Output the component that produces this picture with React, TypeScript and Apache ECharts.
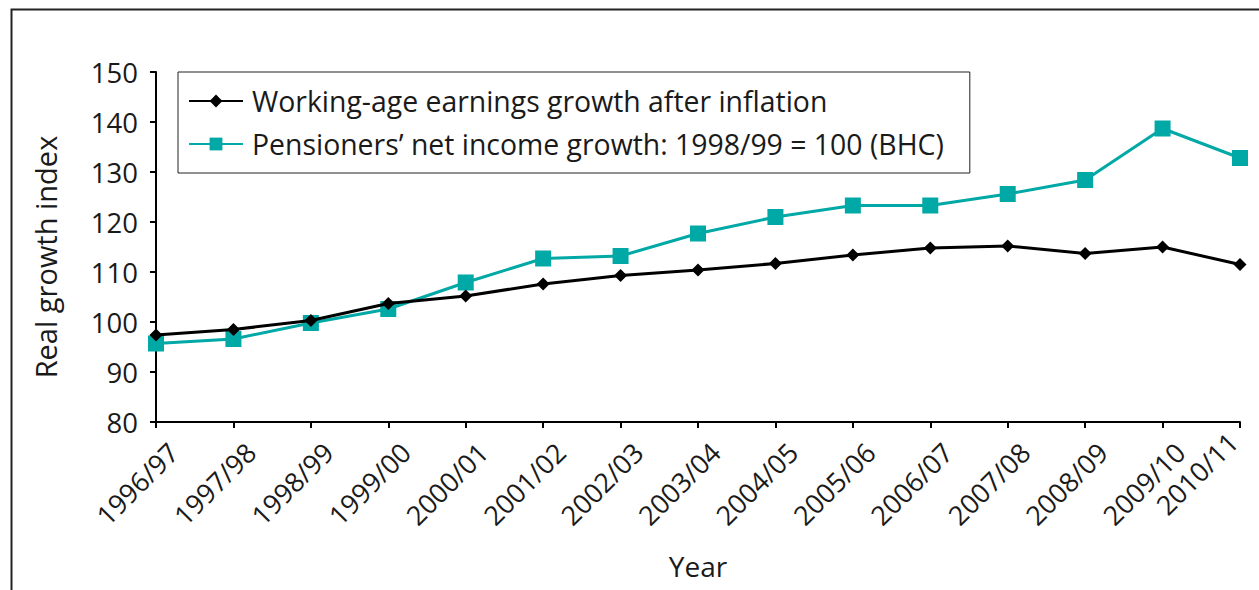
import React, { useEffect, useRef } from "react";
import * as echarts from "echarts";

const categories = [
  "1996/97", "1997/98", "1998/99", "1999/00", "2000/01", "2001/02", "2002/03", "2003/04",
  "2004/05", "2005/06", "2006/07", "2007/08", "2008/09", "2009/10", "2010/11",
];
const workingAge = [97.4, 98.5, 100.3, 103.7, 105.2, 107.6, 109.3, 110.4, 111.7, 113.4, 114.8, 115.2, 113.7, 115.0, 111.5];
const pensioners = [95.7, 96.6, 99.8, 102.6, 107.9, 112.7, 113.2, 117.7, 121.0, 123.3, 123.3, 125.6, 128.4, 138.7, 132.8];
const seriesNames = [
  "Working-age earnings growth after inflation",
  "Pensioners\u2019 net income growth: 1998/99 = 100 (BHC)",
];

const FONT = "Open Sans";
const TXT = "#1a1a1a";

export default function App() {
  const ref = useRef<HTMLDivElement>(null);
  useEffect(() => {
    if (!ref.current) return;
    const chart = echarts.init(ref.current, undefined, { renderer: "svg" });
    const lastIdx = categories.length - 1;
    const xData = categories.map((c, i) =>
      i === lastIdx ? { value: c, textStyle: { padding: [3, 10, 0, 0] } } : c
    );
    chart.setOption({
      animation: false,
      backgroundColor: "#ffffff",
      textStyle: { fontFamily: FONT, color: TXT },
      grid: {
        left: 156,
        right: 19,
        top: 72,
        bottom: 168,
        containLabel: false,
        outerBoundsMode: "none",
      },
      legend: {
        orient: "vertical",
        left: 178,
        top: 72,
        padding: [15, 26, 15, 10],
        itemGap: 15,
        itemWidth: 54,
        itemHeight: 16,
        borderColor: "#222",
        borderWidth: 1,
        textStyle: { fontFamily: FONT, fontSize: 28.4, color: TXT, padding: [0, 0, 0, 4] },
        data: seriesNames,
      },
      xAxis: {
        type: "category",
        data: xData,
        boundaryGap: false,
        name: "Year",
        nameLocation: "middle",
        nameGap: 130,
        nameTextStyle: { fontFamily: FONT, fontSize: 28, color: TXT },
        axisLine: { lineStyle: { color: "#000", width: 2 } },
        axisTick: { alignWithLabel: true, length: 6, lineStyle: { color: "#000", width: 2 } },
        axisLabel: {
          rotate: 45,
          fontFamily: FONT,
          fontSize: 27,
          color: TXT,
          margin: 8,
          interval: 0,
          verticalAlign: "top",
          padding: [11, 0, 0, 0],
        },
        splitLine: { show: false },
      },
      yAxis: {
        type: "value",
        min: 80,
        max: 150,
        interval: 10,
        name: "Real growth index",
        nameLocation: "middle",
        nameGap: 96,
        nameRotate: 90,
        nameTextStyle: { fontFamily: FONT, fontSize: 29, color: TXT, padding: [0, 20, 0, 0] },
        axisLine: { show: true, lineStyle: { color: "#000", width: 2 } },
        axisTick: { show: true, length: 6, lineStyle: { color: "#000", width: 2 } },
        axisLabel: { fontFamily: FONT, fontSize: 27.5, color: TXT, margin: 18 },
        splitLine: { show: false },
      },
      series: [
        {
          name: seriesNames[0],
          type: "line",
          data: workingAge,
          symbol: "diamond",
          symbolSize: 13,
          itemStyle: { color: "#000" },
          lineStyle: { color: "#000", width: 3 },
          z: 3,
        },
        {
          name: seriesNames[1],
          type: "line",
          data: pensioners,
          symbol: "rect",
          symbolSize: 16,
          itemStyle: { color: "#00a8a6" },
          lineStyle: { color: "#00a8a6", width: 3 },
          z: 2,
        },
      ],
      graphic: [
        {
          type: "rect",
          left: 9,
          top: 7,
          shape: { x: 0, y: 0, width: 1270, height: 600 },
          style: { fill: "none", stroke: "#222", lineWidth: 2 },
          silent: true,
        },
      ],
    });
    return () => chart.dispose();
  }, []);
  return (
    <div
      ref={ref}
      style={{ position: "fixed", left: 0, top: 0, width: 1259, height: 590 }}
    />
  );
}
